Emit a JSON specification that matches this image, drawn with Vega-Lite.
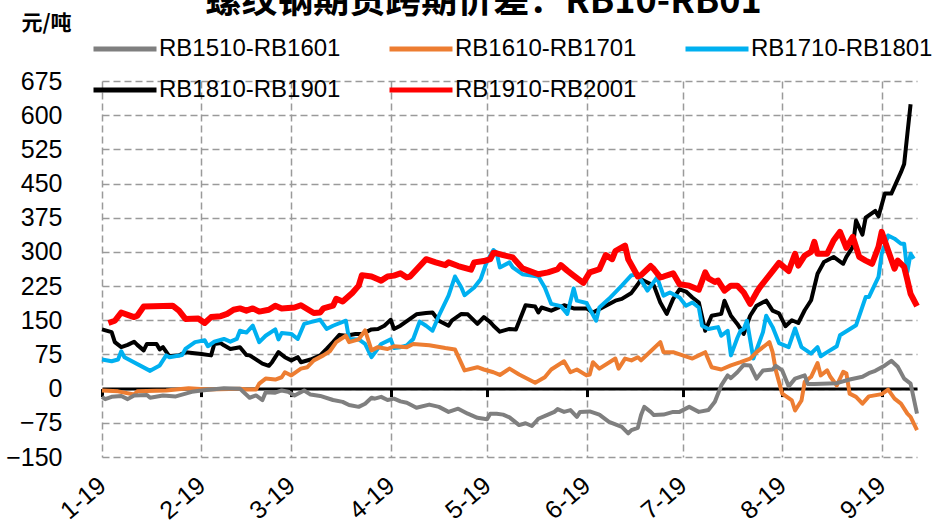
{
"$schema": "https://vega.github.io/schema/vega-lite/v6.json",
"width": 815, "height": 376,
"autosize": {"type": "none"},
"padding": {"left": 102, "top": 81, "right": 19, "bottom": 67},
"background": "white",
"config": {"view": {"stroke": null}},
"title": {"text": "螺纹钢期货跨期价差：RB10-RB01", "frame": "group", "anchor": "middle", "offset": -37, "dx": -26, "font": "Noto Sans CJK SC", "fontSize": 36, "fontWeight": "bold", "color": "black", "baseline": "alphabetic"},
"data": {"values": [
{"s":"RB1910-RB2001","t":"2019-01-03","v":144},{"s":"RB1910-RB2001","t":"2019-01-05","v":149},{"s":"RB1910-RB2001","t":"2019-01-07","v":167},{"s":"RB1910-RB2001","t":"2019-01-09","v":162},{"s":"RB1910-RB2001","t":"2019-01-11","v":157},{"s":"RB1910-RB2001","t":"2019-01-12","v":160},{"s":"RB1910-RB2001","t":"2019-01-14","v":180},{"s":"RB1910-RB2001","t":"2019-01-23","v":182},{"s":"RB1910-RB2001","t":"2019-01-25","v":171},{"s":"RB1910-RB2001","t":"2019-01-27","v":153},{"s":"RB1910-RB2001","t":"2019-01-31","v":154},{"s":"RB1910-RB2001","t":"2019-02-02","v":144},{"s":"RB1910-RB2001","t":"2019-02-04","v":157},{"s":"RB1910-RB2001","t":"2019-02-07","v":159},{"s":"RB1910-RB2001","t":"2019-02-09","v":164},{"s":"RB1910-RB2001","t":"2019-02-11","v":173},{"s":"RB1910-RB2001","t":"2019-02-13","v":176},{"s":"RB1910-RB2001","t":"2019-02-15","v":171},{"s":"RB1910-RB2001","t":"2019-02-17","v":176},{"s":"RB1910-RB2001","t":"2019-02-19","v":169},{"s":"RB1910-RB2001","t":"2019-02-22","v":173},{"s":"RB1910-RB2001","t":"2019-02-24","v":182},{"s":"RB1910-RB2001","t":"2019-02-26","v":176},{"s":"RB1910-RB2001","t":"2019-03-02","v":178},{"s":"RB1910-RB2001","t":"2019-03-04","v":183},{"s":"RB1910-RB2001","t":"2019-03-08","v":166},{"s":"RB1910-RB2001","t":"2019-03-10","v":167},{"s":"RB1910-RB2001","t":"2019-03-11","v":176},{"s":"RB1910-RB2001","t":"2019-03-14","v":182},{"s":"RB1910-RB2001","t":"2019-03-15","v":197},{"s":"RB1910-RB2001","t":"2019-03-17","v":191},{"s":"RB1910-RB2001","t":"2019-03-20","v":210},{"s":"RB1910-RB2001","t":"2019-03-22","v":226},{"s":"RB1910-RB2001","t":"2019-03-23","v":249},{"s":"RB1910-RB2001","t":"2019-03-26","v":246},{"s":"RB1910-RB2001","t":"2019-03-28","v":240},{"s":"RB1910-RB2001","t":"2019-03-29","v":237},{"s":"RB1910-RB2001","t":"2019-03-31","v":246},{"s":"RB1910-RB2001","t":"2019-04-02","v":248},{"s":"RB1910-RB2001","t":"2019-04-04","v":253},{"s":"RB1910-RB2001","t":"2019-04-06","v":244},{"s":"RB1910-RB2001","t":"2019-04-07","v":246},{"s":"RB1910-RB2001","t":"2019-04-12","v":284},{"s":"RB1910-RB2001","t":"2019-04-15","v":277},{"s":"RB1910-RB2001","t":"2019-04-18","v":271},{"s":"RB1910-RB2001","t":"2019-04-19","v":277},{"s":"RB1910-RB2001","t":"2019-04-22","v":269},{"s":"RB1910-RB2001","t":"2019-04-26","v":261},{"s":"RB1910-RB2001","t":"2019-04-27","v":277},{"s":"RB1910-RB2001","t":"2019-04-30","v":280},{"s":"RB1910-RB2001","t":"2019-05-02","v":284},{"s":"RB1910-RB2001","t":"2019-05-03","v":298},{"s":"RB1910-RB2001","t":"2019-05-04","v":297},{"s":"RB1910-RB2001","t":"2019-05-06","v":293},{"s":"RB1910-RB2001","t":"2019-05-09","v":288},{"s":"RB1910-RB2001","t":"2019-05-12","v":264},{"s":"RB1910-RB2001","t":"2019-05-17","v":251},{"s":"RB1910-RB2001","t":"2019-05-20","v":255},{"s":"RB1910-RB2001","t":"2019-05-23","v":262},{"s":"RB1910-RB2001","t":"2019-05-24","v":271},{"s":"RB1910-RB2001","t":"2019-05-26","v":259},{"s":"RB1910-RB2001","t":"2019-05-28","v":248},{"s":"RB1910-RB2001","t":"2019-05-31","v":232},{"s":"RB1910-RB2001","t":"2019-06-02","v":255},{"s":"RB1910-RB2001","t":"2019-06-05","v":262},{"s":"RB1910-RB2001","t":"2019-06-07","v":293},{"s":"RB1910-RB2001","t":"2019-06-09","v":284},{"s":"RB1910-RB2001","t":"2019-06-10","v":302},{"s":"RB1910-RB2001","t":"2019-06-13","v":314},{"s":"RB1910-RB2001","t":"2019-06-14","v":284},{"s":"RB1910-RB2001","t":"2019-06-17","v":246},{"s":"RB1910-RB2001","t":"2019-06-18","v":249},{"s":"RB1910-RB2001","t":"2019-06-21","v":269},{"s":"RB1910-RB2001","t":"2019-06-22","v":262},{"s":"RB1910-RB2001","t":"2019-06-24","v":244},{"s":"RB1910-RB2001","t":"2019-06-25","v":246},{"s":"RB1910-RB2001","t":"2019-06-28","v":253},{"s":"RB1910-RB2001","t":"2019-06-30","v":229},{"s":"RB1910-RB2001","t":"2019-07-03","v":226},{"s":"RB1910-RB2001","t":"2019-07-06","v":217},{"s":"RB1910-RB2001","t":"2019-07-08","v":255},{"s":"RB1910-RB2001","t":"2019-07-09","v":242},{"s":"RB1910-RB2001","t":"2019-07-11","v":234},{"s":"RB1910-RB2001","t":"2019-07-12","v":237},{"s":"RB1910-RB2001","t":"2019-07-14","v":215},{"s":"RB1910-RB2001","t":"2019-07-16","v":226},{"s":"RB1910-RB2001","t":"2019-07-18","v":226},{"s":"RB1910-RB2001","t":"2019-07-20","v":211},{"s":"RB1910-RB2001","t":"2019-07-22","v":186},{"s":"RB1910-RB2001","t":"2019-07-24","v":211},{"s":"RB1910-RB2001","t":"2019-07-25","v":222},{"s":"RB1910-RB2001","t":"2019-07-27","v":240},{"s":"RB1910-RB2001","t":"2019-07-29","v":258},{"s":"RB1910-RB2001","t":"2019-07-31","v":276},{"s":"RB1910-RB2001","t":"2019-08-03","v":258},{"s":"RB1910-RB2001","t":"2019-08-05","v":296},{"s":"RB1910-RB2001","t":"2019-08-06","v":270},{"s":"RB1910-RB2001","t":"2019-08-08","v":292},{"s":"RB1910-RB2001","t":"2019-08-10","v":300},{"s":"RB1910-RB2001","t":"2019-08-11","v":322},{"s":"RB1910-RB2001","t":"2019-08-12","v":296},{"s":"RB1910-RB2001","t":"2019-08-15","v":296},{"s":"RB1910-RB2001","t":"2019-08-17","v":325},{"s":"RB1910-RB2001","t":"2019-08-19","v":344},{"s":"RB1910-RB2001","t":"2019-08-21","v":309},{"s":"RB1910-RB2001","t":"2019-08-23","v":333},{"s":"RB1910-RB2001","t":"2019-08-25","v":289},{"s":"RB1910-RB2001","t":"2019-08-27","v":281},{"s":"RB1910-RB2001","t":"2019-08-29","v":274},{"s":"RB1910-RB2001","t":"2019-08-31","v":311},{"s":"RB1910-RB2001","t":"2019-09-01","v":344},{"s":"RB1910-RB2001","t":"2019-09-03","v":303},{"s":"RB1910-RB2001","t":"2019-09-05","v":263},{"s":"RB1910-RB2001","t":"2019-09-06","v":281},{"s":"RB1910-RB2001","t":"2019-09-08","v":267},{"s":"RB1910-RB2001","t":"2019-09-09","v":238},{"s":"RB1910-RB2001","t":"2019-09-10","v":208},{"s":"RB1910-RB2001","t":"2019-09-12","v":181},
{"s":"RB1810-RB1901","t":"2019-01-01","v":130},{"s":"RB1810-RB1901","t":"2019-01-04","v":124},{"s":"RB1810-RB1901","t":"2019-01-05","v":102},{"s":"RB1810-RB1901","t":"2019-01-07","v":91},{"s":"RB1810-RB1901","t":"2019-01-09","v":96},{"s":"RB1810-RB1901","t":"2019-01-11","v":103},{"s":"RB1810-RB1901","t":"2019-01-12","v":96},{"s":"RB1810-RB1901","t":"2019-01-14","v":84},{"s":"RB1810-RB1901","t":"2019-01-15","v":98},{"s":"RB1810-RB1901","t":"2019-01-18","v":98},{"s":"RB1810-RB1901","t":"2019-01-19","v":86},{"s":"RB1810-RB1901","t":"2019-01-20","v":91},{"s":"RB1810-RB1901","t":"2019-01-22","v":71},{"s":"RB1810-RB1901","t":"2019-01-25","v":73},{"s":"RB1810-RB1901","t":"2019-01-27","v":80},{"s":"RB1810-RB1901","t":"2019-02-01","v":76},{"s":"RB1810-RB1901","t":"2019-02-04","v":73},{"s":"RB1810-RB1901","t":"2019-02-05","v":98},{"s":"RB1810-RB1901","t":"2019-02-07","v":100},{"s":"RB1810-RB1901","t":"2019-02-08","v":95},{"s":"RB1810-RB1901","t":"2019-02-10","v":87},{"s":"RB1810-RB1901","t":"2019-02-13","v":91},{"s":"RB1810-RB1901","t":"2019-02-15","v":74},{"s":"RB1810-RB1901","t":"2019-02-16","v":73},{"s":"RB1810-RB1901","t":"2019-02-20","v":55},{"s":"RB1810-RB1901","t":"2019-02-22","v":50},{"s":"RB1810-RB1901","t":"2019-02-23","v":58},{"s":"RB1810-RB1901","t":"2019-02-25","v":80},{"s":"RB1810-RB1901","t":"2019-02-27","v":69},{"s":"RB1810-RB1901","t":"2019-03-01","v":62},{"s":"RB1810-RB1901","t":"2019-03-03","v":69},{"s":"RB1810-RB1901","t":"2019-03-04","v":58},{"s":"RB1810-RB1901","t":"2019-03-07","v":64},{"s":"RB1810-RB1901","t":"2019-03-10","v":73},{"s":"RB1810-RB1901","t":"2019-03-12","v":87},{"s":"RB1810-RB1901","t":"2019-03-14","v":102},{"s":"RB1810-RB1901","t":"2019-03-16","v":118},{"s":"RB1810-RB1901","t":"2019-03-18","v":116},{"s":"RB1810-RB1901","t":"2019-03-21","v":120},{"s":"RB1810-RB1901","t":"2019-03-23","v":120},{"s":"RB1810-RB1901","t":"2019-03-26","v":130},{"s":"RB1810-RB1901","t":"2019-03-28","v":131},{"s":"RB1810-RB1901","t":"2019-03-30","v":138},{"s":"RB1810-RB1901","t":"2019-04-01","v":151},{"s":"RB1810-RB1901","t":"2019-04-02","v":131},{"s":"RB1810-RB1901","t":"2019-04-04","v":138},{"s":"RB1810-RB1901","t":"2019-04-07","v":153},{"s":"RB1810-RB1901","t":"2019-04-09","v":163},{"s":"RB1810-RB1901","t":"2019-04-12","v":166},{"s":"RB1810-RB1901","t":"2019-04-14","v":167},{"s":"RB1810-RB1901","t":"2019-04-16","v":149},{"s":"RB1810-RB1901","t":"2019-04-19","v":138},{"s":"RB1810-RB1901","t":"2019-04-20","v":149},{"s":"RB1810-RB1901","t":"2019-04-23","v":164},{"s":"RB1810-RB1901","t":"2019-04-25","v":163},{"s":"RB1810-RB1901","t":"2019-04-28","v":142},{"s":"RB1810-RB1901","t":"2019-04-30","v":157},{"s":"RB1810-RB1901","t":"2019-05-02","v":146},{"s":"RB1810-RB1901","t":"2019-05-03","v":138},{"s":"RB1810-RB1901","t":"2019-05-05","v":125},{"s":"RB1810-RB1901","t":"2019-05-08","v":131},{"s":"RB1810-RB1901","t":"2019-05-10","v":130},{"s":"RB1810-RB1901","t":"2019-05-13","v":183},{"s":"RB1810-RB1901","t":"2019-05-16","v":180},{"s":"RB1810-RB1901","t":"2019-05-17","v":167},{"s":"RB1810-RB1901","t":"2019-05-18","v":178},{"s":"RB1810-RB1901","t":"2019-05-21","v":171},{"s":"RB1810-RB1901","t":"2019-05-25","v":183},{"s":"RB1810-RB1901","t":"2019-05-28","v":176},{"s":"RB1810-RB1901","t":"2019-06-01","v":176},{"s":"RB1810-RB1901","t":"2019-06-03","v":167},{"s":"RB1810-RB1901","t":"2019-06-06","v":178},{"s":"RB1810-RB1901","t":"2019-06-10","v":193},{"s":"RB1810-RB1901","t":"2019-06-12","v":197},{"s":"RB1810-RB1901","t":"2019-06-15","v":210},{"s":"RB1810-RB1901","t":"2019-06-17","v":229},{"s":"RB1810-RB1901","t":"2019-06-18","v":240},{"s":"RB1810-RB1901","t":"2019-06-20","v":233},{"s":"RB1810-RB1901","t":"2019-06-22","v":226},{"s":"RB1810-RB1901","t":"2019-06-24","v":189},{"s":"RB1810-RB1901","t":"2019-06-26","v":164},{"s":"RB1810-RB1901","t":"2019-06-28","v":197},{"s":"RB1810-RB1901","t":"2019-06-30","v":218},{"s":"RB1810-RB1901","t":"2019-07-02","v":213},{"s":"RB1810-RB1901","t":"2019-07-04","v":200},{"s":"RB1810-RB1901","t":"2019-07-06","v":189},{"s":"RB1810-RB1901","t":"2019-07-08","v":127},{"s":"RB1810-RB1901","t":"2019-07-10","v":160},{"s":"RB1810-RB1901","t":"2019-07-13","v":164},{"s":"RB1810-RB1901","t":"2019-07-14","v":193},{"s":"RB1810-RB1901","t":"2019-07-16","v":160},{"s":"RB1810-RB1901","t":"2019-07-18","v":142},{"s":"RB1810-RB1901","t":"2019-07-20","v":120},{"s":"RB1810-RB1901","t":"2019-07-22","v":160},{"s":"RB1810-RB1901","t":"2019-07-24","v":182},{"s":"RB1810-RB1901","t":"2019-07-27","v":193},{"s":"RB1810-RB1901","t":"2019-07-29","v":171},{"s":"RB1810-RB1901","t":"2019-07-31","v":165},{"s":"RB1810-RB1901","t":"2019-08-02","v":137},{"s":"RB1810-RB1901","t":"2019-08-04","v":150},{"s":"RB1810-RB1901","t":"2019-08-06","v":144},{"s":"RB1810-RB1901","t":"2019-08-08","v":172},{"s":"RB1810-RB1901","t":"2019-08-10","v":194},{"s":"RB1810-RB1901","t":"2019-08-12","v":252},{"s":"RB1810-RB1901","t":"2019-08-14","v":278},{"s":"RB1810-RB1901","t":"2019-08-17","v":289},{"s":"RB1810-RB1901","t":"2019-08-20","v":274},{"s":"RB1810-RB1901","t":"2019-08-21","v":289},{"s":"RB1810-RB1901","t":"2019-08-23","v":311},{"s":"RB1810-RB1901","t":"2019-08-24","v":369},{"s":"RB1810-RB1901","t":"2019-08-26","v":338},{"s":"RB1810-RB1901","t":"2019-08-27","v":375},{"s":"RB1810-RB1901","t":"2019-08-30","v":390},{"s":"RB1810-RB1901","t":"2019-08-31","v":378},{"s":"RB1810-RB1901","t":"2019-09-02","v":428},{"s":"RB1810-RB1901","t":"2019-09-04","v":428},{"s":"RB1810-RB1901","t":"2019-09-07","v":475},{"s":"RB1810-RB1901","t":"2019-09-08","v":493},{"s":"RB1810-RB1901","t":"2019-09-09","v":559},{"s":"RB1810-RB1901","t":"2019-09-10","v":624},
{"s":"RB1710-RB1801","t":"2019-01-01","v":64},{"s":"RB1710-RB1801","t":"2019-01-04","v":60},{"s":"RB1710-RB1801","t":"2019-01-06","v":64},{"s":"RB1710-RB1801","t":"2019-01-07","v":82},{"s":"RB1710-RB1801","t":"2019-01-08","v":69},{"s":"RB1710-RB1801","t":"2019-01-16","v":39},{"s":"RB1710-RB1801","t":"2019-01-19","v":51},{"s":"RB1710-RB1801","t":"2019-01-21","v":73},{"s":"RB1710-RB1801","t":"2019-01-22","v":69},{"s":"RB1710-RB1801","t":"2019-01-26","v":74},{"s":"RB1710-RB1801","t":"2019-01-27","v":87},{"s":"RB1710-RB1801","t":"2019-01-30","v":102},{"s":"RB1710-RB1801","t":"2019-02-02","v":106},{"s":"RB1710-RB1801","t":"2019-02-03","v":93},{"s":"RB1710-RB1801","t":"2019-02-05","v":103},{"s":"RB1710-RB1801","t":"2019-02-08","v":109},{"s":"RB1710-RB1801","t":"2019-02-10","v":103},{"s":"RB1710-RB1801","t":"2019-02-12","v":109},{"s":"RB1710-RB1801","t":"2019-02-13","v":127},{"s":"RB1710-RB1801","t":"2019-02-15","v":123},{"s":"RB1710-RB1801","t":"2019-02-17","v":138},{"s":"RB1710-RB1801","t":"2019-02-19","v":102},{"s":"RB1710-RB1801","t":"2019-02-21","v":116},{"s":"RB1710-RB1801","t":"2019-02-24","v":130},{"s":"RB1710-RB1801","t":"2019-02-25","v":108},{"s":"RB1710-RB1801","t":"2019-02-26","v":122},{"s":"RB1710-RB1801","t":"2019-03-01","v":120},{"s":"RB1710-RB1801","t":"2019-03-03","v":109},{"s":"RB1710-RB1801","t":"2019-03-05","v":142},{"s":"RB1710-RB1801","t":"2019-03-07","v":146},{"s":"RB1710-RB1801","t":"2019-03-10","v":151},{"s":"RB1710-RB1801","t":"2019-03-12","v":131},{"s":"RB1710-RB1801","t":"2019-03-14","v":138},{"s":"RB1710-RB1801","t":"2019-03-18","v":149},{"s":"RB1710-RB1801","t":"2019-03-19","v":109},{"s":"RB1710-RB1801","t":"2019-03-22","v":108},{"s":"RB1710-RB1801","t":"2019-03-24","v":98},{"s":"RB1710-RB1801","t":"2019-03-26","v":69},{"s":"RB1710-RB1801","t":"2019-03-29","v":98},{"s":"RB1710-RB1801","t":"2019-04-01","v":108},{"s":"RB1710-RB1801","t":"2019-04-02","v":89},{"s":"RB1710-RB1801","t":"2019-04-04","v":91},{"s":"RB1710-RB1801","t":"2019-04-06","v":95},{"s":"RB1710-RB1801","t":"2019-04-08","v":109},{"s":"RB1710-RB1801","t":"2019-04-10","v":147},{"s":"RB1710-RB1801","t":"2019-04-12","v":138},{"s":"RB1710-RB1801","t":"2019-04-14","v":127},{"s":"RB1710-RB1801","t":"2019-04-16","v":160},{"s":"RB1710-RB1801","t":"2019-04-19","v":204},{"s":"RB1710-RB1801","t":"2019-04-21","v":246},{"s":"RB1710-RB1801","t":"2019-04-23","v":222},{"s":"RB1710-RB1801","t":"2019-04-24","v":205},{"s":"RB1710-RB1801","t":"2019-04-27","v":222},{"s":"RB1710-RB1801","t":"2019-04-29","v":240},{"s":"RB1710-RB1801","t":"2019-05-01","v":280},{"s":"RB1710-RB1801","t":"2019-05-03","v":304},{"s":"RB1710-RB1801","t":"2019-05-04","v":298},{"s":"RB1710-RB1801","t":"2019-05-05","v":266},{"s":"RB1710-RB1801","t":"2019-05-08","v":277},{"s":"RB1710-RB1801","t":"2019-05-09","v":266},{"s":"RB1710-RB1801","t":"2019-05-12","v":251},{"s":"RB1710-RB1801","t":"2019-05-17","v":246},{"s":"RB1710-RB1801","t":"2019-05-19","v":222},{"s":"RB1710-RB1801","t":"2019-05-21","v":186},{"s":"RB1710-RB1801","t":"2019-05-24","v":181},{"s":"RB1710-RB1801","t":"2019-05-26","v":164},{"s":"RB1710-RB1801","t":"2019-05-28","v":220},{"s":"RB1710-RB1801","t":"2019-05-29","v":193},{"s":"RB1710-RB1801","t":"2019-06-01","v":188},{"s":"RB1710-RB1801","t":"2019-06-04","v":149},{"s":"RB1710-RB1801","t":"2019-06-05","v":178},{"s":"RB1710-RB1801","t":"2019-06-08","v":197},{"s":"RB1710-RB1801","t":"2019-06-12","v":226},{"s":"RB1710-RB1801","t":"2019-06-15","v":249},{"s":"RB1710-RB1801","t":"2019-06-17","v":250},{"s":"RB1710-RB1801","t":"2019-06-20","v":215},{"s":"RB1710-RB1801","t":"2019-06-23","v":244},{"s":"RB1710-RB1801","t":"2019-06-25","v":204},{"s":"RB1710-RB1801","t":"2019-06-27","v":211},{"s":"RB1710-RB1801","t":"2019-06-30","v":200},{"s":"RB1710-RB1801","t":"2019-07-02","v":182},{"s":"RB1710-RB1801","t":"2019-07-04","v":189},{"s":"RB1710-RB1801","t":"2019-07-06","v":178},{"s":"RB1710-RB1801","t":"2019-07-07","v":138},{"s":"RB1710-RB1801","t":"2019-07-09","v":131},{"s":"RB1710-RB1801","t":"2019-07-12","v":135},{"s":"RB1710-RB1801","t":"2019-07-13","v":116},{"s":"RB1710-RB1801","t":"2019-07-15","v":127},{"s":"RB1710-RB1801","t":"2019-07-16","v":73},{"s":"RB1710-RB1801","t":"2019-07-18","v":111},{"s":"RB1710-RB1801","t":"2019-07-19","v":127},{"s":"RB1710-RB1801","t":"2019-07-20","v":131},{"s":"RB1710-RB1801","t":"2019-07-21","v":149},{"s":"RB1710-RB1801","t":"2019-07-23","v":66},{"s":"RB1710-RB1801","t":"2019-07-26","v":124},{"s":"RB1710-RB1801","t":"2019-07-27","v":160},{"s":"RB1710-RB1801","t":"2019-07-29","v":135},{"s":"RB1710-RB1801","t":"2019-07-31","v":100},{"s":"RB1710-RB1801","t":"2019-08-03","v":91},{"s":"RB1710-RB1801","t":"2019-08-05","v":132},{"s":"RB1710-RB1801","t":"2019-08-07","v":91},{"s":"RB1710-RB1801","t":"2019-08-10","v":77},{"s":"RB1710-RB1801","t":"2019-08-12","v":91},{"s":"RB1710-RB1801","t":"2019-08-13","v":71},{"s":"RB1710-RB1801","t":"2019-08-15","v":80},{"s":"RB1710-RB1801","t":"2019-08-18","v":93},{"s":"RB1710-RB1801","t":"2019-08-19","v":117},{"s":"RB1710-RB1801","t":"2019-08-24","v":139},{"s":"RB1710-RB1801","t":"2019-08-27","v":201},{"s":"RB1710-RB1801","t":"2019-08-28","v":201},{"s":"RB1710-RB1801","t":"2019-08-31","v":245},{"s":"RB1710-RB1801","t":"2019-09-01","v":296},{"s":"RB1710-RB1801","t":"2019-09-03","v":336},{"s":"RB1710-RB1801","t":"2019-09-05","v":329},{"s":"RB1710-RB1801","t":"2019-09-07","v":318},{"s":"RB1710-RB1801","t":"2019-09-08","v":318},{"s":"RB1710-RB1801","t":"2019-09-09","v":256},{"s":"RB1710-RB1801","t":"2019-09-10","v":296},{"s":"RB1710-RB1801","t":"2019-09-11","v":285},
{"s":"RB1610-RB1701","t":"2019-01-01","v":-4},{"s":"RB1610-RB1701","t":"2019-01-06","v":-6},{"s":"RB1610-RB1701","t":"2019-01-11","v":-13},{"s":"RB1610-RB1701","t":"2019-01-12","v":-6},{"s":"RB1610-RB1701","t":"2019-01-21","v":-4},{"s":"RB1610-RB1701","t":"2019-01-28","v":1},{"s":"RB1610-RB1701","t":"2019-02-03","v":-2},{"s":"RB1610-RB1701","t":"2019-02-13","v":0},{"s":"RB1610-RB1701","t":"2019-02-15","v":-2},{"s":"RB1610-RB1701","t":"2019-02-18","v":-2},{"s":"RB1610-RB1701","t":"2019-02-19","v":11},{"s":"RB1610-RB1701","t":"2019-02-21","v":22},{"s":"RB1610-RB1701","t":"2019-02-24","v":20},{"s":"RB1610-RB1701","t":"2019-02-26","v":25},{"s":"RB1610-RB1701","t":"2019-02-27","v":36},{"s":"RB1610-RB1701","t":"2019-03-01","v":29},{"s":"RB1610-RB1701","t":"2019-03-04","v":44},{"s":"RB1610-RB1701","t":"2019-03-06","v":47},{"s":"RB1610-RB1701","t":"2019-03-08","v":62},{"s":"RB1610-RB1701","t":"2019-03-11","v":73},{"s":"RB1610-RB1701","t":"2019-03-13","v":82},{"s":"RB1610-RB1701","t":"2019-03-15","v":102},{"s":"RB1610-RB1701","t":"2019-03-18","v":116},{"s":"RB1610-RB1701","t":"2019-03-19","v":102},{"s":"RB1610-RB1701","t":"2019-03-22","v":108},{"s":"RB1610-RB1701","t":"2019-03-24","v":128},{"s":"RB1610-RB1701","t":"2019-03-26","v":84},{"s":"RB1610-RB1701","t":"2019-03-28","v":91},{"s":"RB1610-RB1701","t":"2019-03-31","v":87},{"s":"RB1610-RB1701","t":"2019-04-02","v":93},{"s":"RB1610-RB1701","t":"2019-04-06","v":91},{"s":"RB1610-RB1701","t":"2019-04-08","v":98},{"s":"RB1610-RB1701","t":"2019-04-13","v":95},{"s":"RB1610-RB1701","t":"2019-04-18","v":89},{"s":"RB1610-RB1701","t":"2019-04-21","v":86},{"s":"RB1610-RB1701","t":"2019-04-24","v":40},{"s":"RB1610-RB1701","t":"2019-04-28","v":47},{"s":"RB1610-RB1701","t":"2019-04-30","v":42},{"s":"RB1610-RB1701","t":"2019-05-03","v":36},{"s":"RB1610-RB1701","t":"2019-05-05","v":30},{"s":"RB1610-RB1701","t":"2019-05-08","v":44},{"s":"RB1610-RB1701","t":"2019-05-11","v":31},{"s":"RB1610-RB1701","t":"2019-05-16","v":13},{"s":"RB1610-RB1701","t":"2019-05-19","v":25},{"s":"RB1610-RB1701","t":"2019-05-21","v":42},{"s":"RB1610-RB1701","t":"2019-05-25","v":60},{"s":"RB1610-RB1701","t":"2019-05-27","v":36},{"s":"RB1610-RB1701","t":"2019-05-29","v":42},{"s":"RB1610-RB1701","t":"2019-06-01","v":29},{"s":"RB1610-RB1701","t":"2019-06-02","v":31},{"s":"RB1610-RB1701","t":"2019-06-03","v":58},{"s":"RB1610-RB1701","t":"2019-06-05","v":44},{"s":"RB1610-RB1701","t":"2019-06-10","v":66},{"s":"RB1610-RB1701","t":"2019-06-11","v":44},{"s":"RB1610-RB1701","t":"2019-06-13","v":66},{"s":"RB1610-RB1701","t":"2019-06-15","v":62},{"s":"RB1610-RB1701","t":"2019-06-17","v":69},{"s":"RB1610-RB1701","t":"2019-06-18","v":62},{"s":"RB1610-RB1701","t":"2019-06-21","v":82},{"s":"RB1610-RB1701","t":"2019-06-24","v":102},{"s":"RB1610-RB1701","t":"2019-06-25","v":80},{"s":"RB1610-RB1701","t":"2019-06-28","v":80},{"s":"RB1610-RB1701","t":"2019-07-01","v":73},{"s":"RB1610-RB1701","t":"2019-07-04","v":66},{"s":"RB1610-RB1701","t":"2019-07-06","v":73},{"s":"RB1610-RB1701","t":"2019-07-08","v":80},{"s":"RB1610-RB1701","t":"2019-07-10","v":47},{"s":"RB1610-RB1701","t":"2019-07-13","v":42},{"s":"RB1610-RB1701","t":"2019-07-16","v":51},{"s":"RB1610-RB1701","t":"2019-07-19","v":58},{"s":"RB1610-RB1701","t":"2019-07-22","v":66},{"s":"RB1610-RB1701","t":"2019-07-24","v":80},{"s":"RB1610-RB1701","t":"2019-07-26","v":91},{"s":"RB1610-RB1701","t":"2019-07-28","v":102},{"s":"RB1610-RB1701","t":"2019-07-29","v":80},{"s":"RB1610-RB1701","t":"2019-07-30","v":40},{"s":"RB1610-RB1701","t":"2019-08-01","v":-11},{"s":"RB1610-RB1701","t":"2019-08-04","v":-26},{"s":"RB1610-RB1701","t":"2019-08-05","v":-48},{"s":"RB1610-RB1701","t":"2019-08-07","v":-26},{"s":"RB1610-RB1701","t":"2019-08-08","v":15},{"s":"RB1610-RB1701","t":"2019-08-10","v":26},{"s":"RB1610-RB1701","t":"2019-08-12","v":56},{"s":"RB1610-RB1701","t":"2019-08-13","v":29},{"s":"RB1610-RB1701","t":"2019-08-15","v":40},{"s":"RB1610-RB1701","t":"2019-08-16","v":26},{"s":"RB1610-RB1701","t":"2019-08-18","v":7},{"s":"RB1610-RB1701","t":"2019-08-20","v":37},{"s":"RB1610-RB1701","t":"2019-08-21","v":33},{"s":"RB1610-RB1701","t":"2019-08-22","v":-11},{"s":"RB1610-RB1701","t":"2019-08-24","v":-18},{"s":"RB1610-RB1701","t":"2019-08-26","v":-33},{"s":"RB1610-RB1701","t":"2019-08-28","v":-17},{"s":"RB1610-RB1701","t":"2019-09-01","v":-12},{"s":"RB1610-RB1701","t":"2019-09-03","v":-2},{"s":"RB1610-RB1701","t":"2019-09-05","v":-22},{"s":"RB1610-RB1701","t":"2019-09-07","v":-33},{"s":"RB1610-RB1701","t":"2019-09-09","v":-55},{"s":"RB1610-RB1701","t":"2019-09-10","v":-62},{"s":"RB1610-RB1701","t":"2019-09-12","v":-91},
{"s":"RB1510-RB1601","t":"2019-01-01","v":-18},{"s":"RB1510-RB1601","t":"2019-01-02","v":-23},{"s":"RB1510-RB1601","t":"2019-01-04","v":-18},{"s":"RB1510-RB1601","t":"2019-01-07","v":-16},{"s":"RB1510-RB1601","t":"2019-01-09","v":-23},{"s":"RB1510-RB1601","t":"2019-01-11","v":-15},{"s":"RB1510-RB1601","t":"2019-01-15","v":-14},{"s":"RB1510-RB1601","t":"2019-01-16","v":-20},{"s":"RB1510-RB1601","t":"2019-01-20","v":-15},{"s":"RB1510-RB1601","t":"2019-01-24","v":-17},{"s":"RB1510-RB1601","t":"2019-01-29","v":-7},{"s":"RB1510-RB1601","t":"2019-02-01","v":-4},{"s":"RB1510-RB1601","t":"2019-02-08","v":1},{"s":"RB1510-RB1601","t":"2019-02-13","v":0},{"s":"RB1510-RB1601","t":"2019-02-14","v":-7},{"s":"RB1510-RB1601","t":"2019-02-16","v":-20},{"s":"RB1510-RB1601","t":"2019-02-18","v":-15},{"s":"RB1510-RB1601","t":"2019-02-20","v":-25},{"s":"RB1510-RB1601","t":"2019-02-21","v":-8},{"s":"RB1510-RB1601","t":"2019-02-24","v":-9},{"s":"RB1510-RB1601","t":"2019-02-26","v":-4},{"s":"RB1510-RB1601","t":"2019-02-28","v":-7},{"s":"RB1510-RB1601","t":"2019-03-02","v":-15},{"s":"RB1510-RB1601","t":"2019-03-05","v":-4},{"s":"RB1510-RB1601","t":"2019-03-07","v":-13},{"s":"RB1510-RB1601","t":"2019-03-10","v":-16},{"s":"RB1510-RB1601","t":"2019-03-14","v":-25},{"s":"RB1510-RB1601","t":"2019-03-17","v":-29},{"s":"RB1510-RB1601","t":"2019-03-19","v":-36},{"s":"RB1510-RB1601","t":"2019-03-22","v":-40},{"s":"RB1510-RB1601","t":"2019-03-24","v":-33},{"s":"RB1510-RB1601","t":"2019-03-26","v":-20},{"s":"RB1510-RB1601","t":"2019-03-27","v":-22},{"s":"RB1510-RB1601","t":"2019-03-29","v":-18},{"s":"RB1510-RB1601","t":"2019-03-31","v":-25},{"s":"RB1510-RB1601","t":"2019-04-02","v":-22},{"s":"RB1510-RB1601","t":"2019-04-04","v":-28},{"s":"RB1510-RB1601","t":"2019-04-06","v":-31},{"s":"RB1510-RB1601","t":"2019-04-09","v":-42},{"s":"RB1510-RB1601","t":"2019-04-13","v":-35},{"s":"RB1510-RB1601","t":"2019-04-16","v":-40},{"s":"RB1510-RB1601","t":"2019-04-19","v":-51},{"s":"RB1510-RB1601","t":"2019-04-22","v":-44},{"s":"RB1510-RB1601","t":"2019-04-25","v":-55},{"s":"RB1510-RB1601","t":"2019-04-28","v":-64},{"s":"RB1510-RB1601","t":"2019-05-01","v":-67},{"s":"RB1510-RB1601","t":"2019-05-02","v":-55},{"s":"RB1510-RB1601","t":"2019-05-04","v":-55},{"s":"RB1510-RB1601","t":"2019-05-06","v":-57},{"s":"RB1510-RB1601","t":"2019-05-08","v":-63},{"s":"RB1510-RB1601","t":"2019-05-11","v":-80},{"s":"RB1510-RB1601","t":"2019-05-13","v":-76},{"s":"RB1510-RB1601","t":"2019-05-15","v":-82},{"s":"RB1510-RB1601","t":"2019-05-17","v":-66},{"s":"RB1510-RB1601","t":"2019-05-20","v":-57},{"s":"RB1510-RB1601","t":"2019-05-22","v":-51},{"s":"RB1510-RB1601","t":"2019-05-23","v":-45},{"s":"RB1510-RB1601","t":"2019-05-25","v":-51},{"s":"RB1510-RB1601","t":"2019-05-27","v":-47},{"s":"RB1510-RB1601","t":"2019-05-29","v":-62},{"s":"RB1510-RB1601","t":"2019-05-30","v":-51},{"s":"RB1510-RB1601","t":"2019-06-02","v":-50},{"s":"RB1510-RB1601","t":"2019-06-05","v":-57},{"s":"RB1510-RB1601","t":"2019-06-08","v":-73},{"s":"RB1510-RB1601","t":"2019-06-12","v":-84},{"s":"RB1510-RB1601","t":"2019-06-14","v":-98},{"s":"RB1510-RB1601","t":"2019-06-15","v":-91},{"s":"RB1510-RB1601","t":"2019-06-17","v":-86},{"s":"RB1510-RB1601","t":"2019-06-18","v":-58},{"s":"RB1510-RB1601","t":"2019-06-19","v":-40},{"s":"RB1510-RB1601","t":"2019-06-21","v":-51},{"s":"RB1510-RB1601","t":"2019-06-22","v":-58},{"s":"RB1510-RB1601","t":"2019-06-25","v":-57},{"s":"RB1510-RB1601","t":"2019-06-28","v":-51},{"s":"RB1510-RB1601","t":"2019-06-30","v":-51},{"s":"RB1510-RB1601","t":"2019-07-03","v":-40},{"s":"RB1510-RB1601","t":"2019-07-06","v":-51},{"s":"RB1510-RB1601","t":"2019-07-09","v":-47},{"s":"RB1510-RB1601","t":"2019-07-11","v":-29},{"s":"RB1510-RB1601","t":"2019-07-13","v":7},{"s":"RB1510-RB1601","t":"2019-07-15","v":29},{"s":"RB1510-RB1601","t":"2019-07-16","v":23},{"s":"RB1510-RB1601","t":"2019-07-18","v":36},{"s":"RB1510-RB1601","t":"2019-07-20","v":52},{"s":"RB1510-RB1601","t":"2019-07-22","v":51},{"s":"RB1510-RB1601","t":"2019-07-24","v":22},{"s":"RB1510-RB1601","t":"2019-07-26","v":40},{"s":"RB1510-RB1601","t":"2019-07-29","v":42},{"s":"RB1510-RB1601","t":"2019-07-30","v":50},{"s":"RB1510-RB1601","t":"2019-08-01","v":40},{"s":"RB1510-RB1601","t":"2019-08-03","v":5},{"s":"RB1510-RB1601","t":"2019-08-05","v":22},{"s":"RB1510-RB1601","t":"2019-08-08","v":29},{"s":"RB1510-RB1601","t":"2019-08-09","v":10},{"s":"RB1510-RB1601","t":"2019-08-11","v":10},{"s":"RB1510-RB1601","t":"2019-08-18","v":12},{"s":"RB1510-RB1601","t":"2019-08-22","v":20},{"s":"RB1510-RB1601","t":"2019-08-26","v":26},{"s":"RB1510-RB1601","t":"2019-08-28","v":34},{"s":"RB1510-RB1601","t":"2019-08-30","v":39},{"s":"RB1510-RB1601","t":"2019-09-02","v":51},{"s":"RB1510-RB1601","t":"2019-09-04","v":61},{"s":"RB1510-RB1601","t":"2019-09-06","v":48},{"s":"RB1510-RB1601","t":"2019-09-08","v":22},{"s":"RB1510-RB1601","t":"2019-09-10","v":11},{"s":"RB1510-RB1601","t":"2019-09-12","v":-55}
]},
"encoding": {
  "x": {"field": "t", "type": "temporal",
    "scale": {"type": "utc", "nice": false, "domain": [{"year": 2019, "month": 1, "date": 1, "utc": true}, {"year": 2019, "month": 9, "date": 12, "utc": true}]},
    "axis": {"title": null, "labelExpr": "utcFormat(datum.value, '%-m-%y')", "tickCount": {"interval": "month", "step": 1},
      "offset": -68.4, "domain": true, "domainColor": "black", "domainWidth": 3,
      "ticks": true, "tickColor": "black", "tickWidth": 3, "tickSize": 8,
      "grid": true, "gridColor": "#9a9a9a", "gridDash": [7, 4], "gridWidth": 1.5,
      "labelAngle": -40, "labelAlign": "right", "labelBaseline": "middle", "labelPadding": 85,
      "labelFont": "Liberation Sans", "labelFontSize": 25, "labelColor": "black", "labelFlush": false, "labelOverlap": false}},
  "y": {"field": "v", "type": "quantitative",
    "scale": {"domain": [-150, 675], "nice": false, "zero": false},
    "axis": {"values": [-150, -75, 0, 75, 150, 225, 300, 375, 450, 525, 600, 675],
      "title": "元/吨", "titleAngle": 0, "titleX": -56, "titleY": -58, "titleAlign": "center", "titleBaseline": "middle",
      "titleFont": "Noto Sans CJK SC", "titleFontSize": 21, "titleFontWeight": "bold", "titleColor": "black",
      "domain": false, "ticks": false, "labelPadding": 40,
      "labelFont": "Liberation Sans", "labelFontSize": 25, "labelColor": "black",
      "grid": true, "gridColor": "#9a9a9a", "gridDash": [7, 4], "gridWidth": 1.5}},
  "color": {"field": "s", "type": "nominal",
    "scale": {"domain": ["RB1510-RB1601", "RB1610-RB1701", "RB1710-RB1801", "RB1810-RB1901", "RB1910-RB2001"],
      "range": ["#7f7f7f", "#ed7d31", "#00b0f0", "#000000", "#ff0000"]},
    "legend": {"orient": "none", "legendX": 10, "legendY": -45, "direction": "horizontal", "columns": 3, "title": null, "padding": 0,
      "symbolType": "M-3,0H3", "symbolSize": 441, "symbolStrokeWidth": 5, "labelOffset": 21,
      "labelFont": "Liberation Sans", "labelFontSize": 24, "labelColor": "black", "labelLimit": 400,
      "columnPadding": 38, "rowPadding": 16,
      "encode": {"symbols": {"update": {"strokeWidth": {"value": 5}}}}}}
},
"layer": [
  {"transform": [{"filter": "datum.s !== 'RB1910-RB2001'"}],
   "mark": {"type": "line", "strokeJoin": "round", "strokeWidth": 4}},
  {"transform": [{"filter": "datum.s === 'RB1910-RB2001'"}],
   "mark": {"type": "line", "strokeJoin": "round", "strokeWidth": 6}}
]
}
